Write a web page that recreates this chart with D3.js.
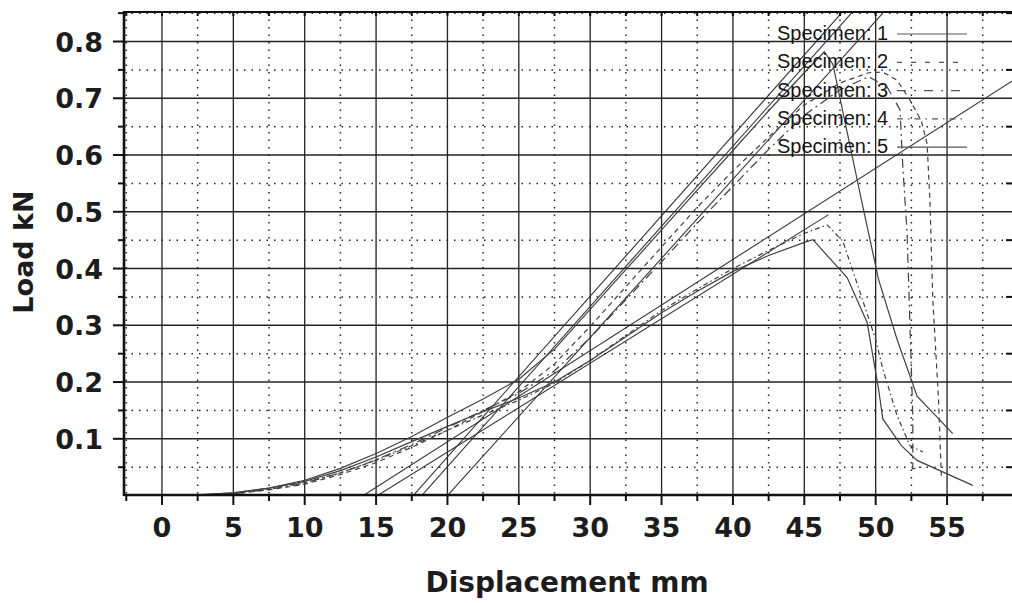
<!DOCTYPE html>
<html>
<head>
<meta charset="utf-8">
<style>
  body { margin: 0; background: #fff; }
  svg { display: block; }
  .tick-label { font: bold 27px "DejaVu Sans", sans-serif; fill: #1c1c1c; }
  .axis-title { font: bold 28px "DejaVu Sans", sans-serif; fill: #1c1c1c; }
  .legend text { font: 20px "Liberation Sans", Arial, sans-serif; fill: #151515; }
</style>
</head>
<body>
<svg></svg>
<script src="https://d3js.org/d3.v7.min.js"></script>
<script>
const width = 1012;
const height = 603;

// grid / tick values
const xMajor = [0, 5, 10, 15, 20, 25, 30, 35, 40, 45, 50, 55];
const xMinor = [-2.5, 2.5, 7.5, 12.5, 17.5, 22.5, 27.5, 32.5, 37.5, 42.5, 47.5, 52.5, 57.5];
const yMajor = [0.1, 0.2, 0.3, 0.4, 0.5, 0.6, 0.7, 0.8];
const yMinor = [0.05, 0.15, 0.25, 0.35, 0.45, 0.55, 0.65, 0.75, 0.85];

const specimenNames = ["Specimen: 1", "Specimen: 2", "Specimen: 3", "Specimen: 4", "Specimen: 5"];

// load (kN) vs displacement (mm)
const spec1 = [[2,0],[5,0.005],[7.5,0.013],[10,0.027],[12.5,0.048],[15,0.074],[17.5,0.104],[20,0.138],
  [22.5,0.17],[25,0.205],[27.5,0.258],[30,0.328],[32.5,0.398],[35,0.468],[37.5,0.538],[40,0.608],
  [42.5,0.678],[45,0.745],[46.4,0.782],[47,0.76],[49,0.521],[50.2,0.381],[51.5,0.275],[52.9,0.175],[55.4,0.109]];
const spec2 = [[3,0],[5,0.003],[7.5,0.01],[10,0.02],[12.5,0.037],[15,0.058],[17.5,0.085],[20,0.115],
  [22.5,0.148],[25,0.183],[27.5,0.232],[30,0.298],[32.5,0.368],[35,0.438],[37.5,0.508],[40,0.572],
  [42.5,0.632],[45,0.688],[47.5,0.727],[49.5,0.745],[50.5,0.746],[51.5,0.732],[52.4,0.697],[53.2,0.66],
  [53.6,0.62],[53.8,0.521],[54,0.346],[54.4,0.17],[54.6,0.035]];
const spec3 = [[2.5,0],[5,0.003],[7.5,0.011],[10,0.022],[12.5,0.04],[15,0.063],[17.5,0.09],[20,0.12],
  [22.5,0.15],[25,0.18],[27.5,0.22],[30,0.278],[32.5,0.345],[35,0.412],[37.5,0.48],[40,0.545],
  [42.5,0.61],[45,0.67],[47.5,0.715],[49.5,0.738],[50.8,0.72],[51.7,0.68],[51.9,0.58],[52.2,0.463],
  [52.6,0.14],[52.6,0.047],[53.2,0.05]];
const spec4 = [[2,0],[5,0.004],[7.5,0.012],[10,0.023],[12.5,0.04],[15,0.062],[17.5,0.088],[20,0.115],
  [22.5,0.142],[25,0.168],[27.5,0.198],[30,0.238],[32.5,0.282],[35,0.326],[37.5,0.364],[40,0.4],
  [42.5,0.432],[45,0.462],[46.6,0.477],[47.7,0.448],[49,0.351],[50,0.275],[50.5,0.223],[51.5,0.141],
  [52.4,0.088],[53.3,0.077]];
const spec5 = [[1.5,0],[5,0.005],[7.5,0.013],[10,0.025],[12.5,0.044],[15,0.068],[17.5,0.095],[20,0.122],
  [22.5,0.148],[25,0.172],[27.5,0.2],[30,0.238],[32.5,0.28],[35,0.322],[37.5,0.36],[40,0.395],
  [42.5,0.423],[45,0.446],[45.6,0.451],[48,0.384],[49.4,0.305],[50.2,0.188],[50.5,0.135],[51.8,0.088],
  [52.9,0.062],[55.2,0.036],[56.8,0.018]];

// straight stiffness lines drawn for each specimen
const tangent1 = [[17.6,0],[47.6,0.85]];
const tangent2 = [[18.2,0],[48.3,0.85]];
const tangent3 = [[20.0,0],[50.5,0.85]];
const tangent4 = [[15.1,0],[46.7,0.495]];
const tangent5 = [[14.1,0],[59.6,0.731]];

const curves = [spec1, spec2, spec3, spec4, spec5];
const tangents = [tangent1, tangent2, tangent3, tangent4, tangent5];
const dashes = [null, "5,4", "9,4,2,4", "5,3,1.5,3", null];
const legendDashes = [null, "5,9", "9,8,2,8", "6,5,1.5,5", null];

const plotLeft = 124, plotRight = 1012, plotTop = 12, plotBottom = 495;

const x = d3.scaleLinear().domain([-2.66, 59.55]).range([plotLeft, plotRight]);
const y = d3.scaleLinear().domain([0.001, 0.852]).range([plotBottom, plotTop]);

const svg = d3.select('svg').attr('width', width).attr('height', height);

svg.append('defs').append('clipPath').attr('id', 'plot')
  .append('rect').attr('x', plotLeft).attr('y', plotTop)
  .attr('width', plotRight - plotLeft).attr('height', plotBottom - plotTop - 1);

// grid
const grid = svg.append('g');
grid.selectAll('.vmaj').data(xMajor).enter().append('line')
  .attr('x1', d => x(d)).attr('x2', d => x(d)).attr('y1', plotTop).attr('y2', plotBottom)
  .style('stroke', '#222').style('stroke-width', 1.3);
grid.selectAll('.vmin').data(xMinor).enter().append('line')
  .attr('x1', d => x(d)).attr('x2', d => x(d)).attr('y1', plotTop).attr('y2', plotBottom)
  .style('stroke', '#222').style('stroke-width', 1.5).style('stroke-dasharray', '1.5,6');
grid.selectAll('.hmaj').data(yMajor).enter().append('line')
  .attr('x1', plotLeft).attr('x2', plotRight).attr('y1', d => y(d)).attr('y2', d => y(d))
  .style('stroke', '#222').style('stroke-width', 1.4);
grid.selectAll('.hmin').data(yMinor).enter().append('line')
  .attr('x1', plotLeft).attr('x2', plotRight).attr('y1', d => y(d)).attr('y2', d => y(d))
  .style('stroke', '#222').style('stroke-width', 1.5).style('stroke-dasharray', '1.5,6');

// curves and stiffness lines
const line = d3.line().x(d => x(d[0])).y(d => y(d[1]));
const plot = svg.append('g').attr('clip-path', 'url(#plot)');
plot.selectAll('.tangent').data(tangents).enter().append('path')
  .attr('d', line)
  .style('fill', 'none').style('stroke', '#333').style('stroke-width', 1.1);
plot.selectAll('.curve').data(curves).enter().append('path')
  .attr('d', line)
  .style('fill', 'none').style('stroke', '#404040')
  .style('stroke-width', 1.2)
  .style('stroke-dasharray', (d, i) => dashes[i]);

// axes frame
svg.append('line').attr('x1', plotLeft).attr('x2', plotLeft).attr('y1', plotTop - 1).attr('y2', plotBottom + 1)
  .style('stroke', '#111').style('stroke-width', 2.6);
svg.append('line').attr('x1', plotLeft).attr('x2', plotRight).attr('y1', plotBottom).attr('y2', plotBottom)
  .style('stroke', '#111').style('stroke-width', 2.6);
svg.append('line').attr('x1', plotLeft).attr('x2', plotRight).attr('y1', plotTop).attr('y2', plotTop)
  .style('stroke', '#111').style('stroke-width', 2.2);

// x ticks
const xTicks = svg.append('g');
xTicks.selectAll('.xt').data(xMajor).enter().append('line')
  .attr('x1', d => x(d)).attr('x2', d => x(d)).attr('y1', plotBottom).attr('y2', plotBottom + 10)
  .style('stroke', '#111').style('stroke-width', 2);
xTicks.selectAll('.xm').data(xMinor).enter().append('line')
  .attr('x1', d => x(d)).attr('x2', d => x(d)).attr('y1', plotBottom).attr('y2', plotBottom + 6)
  .style('stroke', '#111').style('stroke-width', 2);
xTicks.selectAll('.xtop').data(xMajor.concat(xMinor)).enter().append('line')
  .attr('x1', d => x(d)).attr('x2', d => x(d)).attr('y1', plotTop).attr('y2', plotTop + 4)
  .style('stroke', '#111').style('stroke-width', 2);
xTicks.selectAll('text').data(xMajor).enter().append('text')
  .attr('class', 'tick-label')
  .attr('x', d => x(d)).attr('y', 537)
  .attr('text-anchor', 'middle')
  .text(d => d);

// y ticks
const yTicks = svg.append('g');
yTicks.selectAll('.yt').data(yMajor).enter().append('line')
  .attr('x1', plotLeft - 11).attr('x2', plotLeft).attr('y1', d => y(d)).attr('y2', d => y(d))
  .style('stroke', '#111').style('stroke-width', 2);
yTicks.selectAll('.ym').data(yMinor).enter().append('line')
  .attr('x1', plotLeft - 6).attr('x2', plotLeft).attr('y1', d => y(d)).attr('y2', d => y(d))
  .style('stroke', '#111').style('stroke-width', 2);
yTicks.selectAll('.yr').data(yMinor).enter().append('line')
  .attr('x1', plotRight - 6).attr('x2', plotRight).attr('y1', d => y(d)).attr('y2', d => y(d))
  .style('stroke', '#111').style('stroke-width', 2);
yTicks.selectAll('text').data(yMajor).enter().append('text')
  .attr('class', 'tick-label')
  .attr('x', 103).attr('y', d => y(d) + 10)
  .attr('text-anchor', 'end')
  .text(d => d.toFixed(1));

// axis titles
svg.append('text').attr('class', 'axis-title')
  .attr('x', 567).attr('y', 592).attr('text-anchor', 'middle')
  .text('Displacement mm');
svg.append('text').attr('class', 'axis-title')
  .attr('transform', 'translate(33,252) rotate(-90)')
  .attr('text-anchor', 'middle').style('font-size', '27px')
  .text('Load kN');

// legend
const legend = svg.append('g').attr('class', 'legend');
const items = legend.selectAll('g').data(specimenNames).enter().append('g')
  .attr('transform', (d, i) => `translate(777,${40 + i * 28.3})`);
items.append('text').text(d => d);
items.append('line')
  .attr('x1', 120).attr('x2', 190).attr('y1', -6).attr('y2', -6)
  .style('stroke', '#555').style('stroke-width', 1.2)
  .style('stroke-dasharray', (d, i) => legendDashes[i]);
</script>
</body>
</html>
